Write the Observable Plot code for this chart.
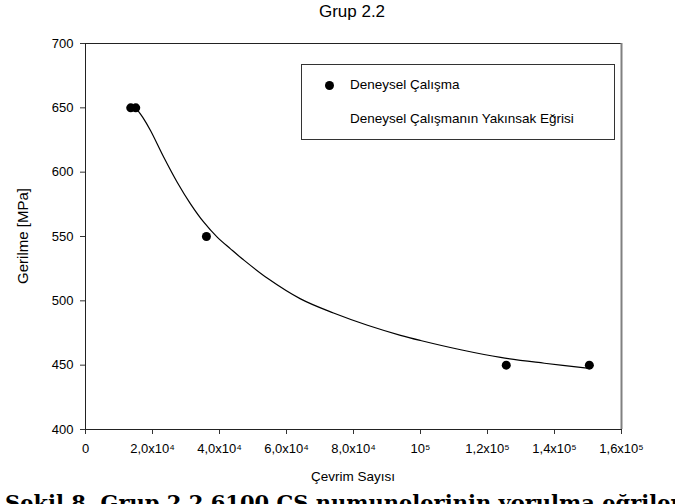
<!DOCTYPE html>
<html>
<head>
<meta charset="utf-8">
<script src="https://cdn.jsdelivr.net/npm/d3@7"></script>
<script src="https://cdn.jsdelivr.net/npm/@observablehq/plot@0.6"></script>
<style>
  html, body { margin: 0; padding: 0; background: #fff; overflow: hidden; width: 675px; height: 504px; }
  #wrap { position: relative; width: 675px; height: 504px; overflow: hidden; font-family: "Liberation Sans", Arial, sans-serif; color: #000; }
  .lbl { position: absolute; white-space: nowrap; }
  #legend { position: absolute; left: 301px; top: 64px; width: 312px; height: 74px; border: 1px solid #333; background: #fff; font-size: 13.5px; }
  #legend .row { position: absolute; left: 48px; }
  #legend .dot { position: absolute; left: 23px; top: 16px; width: 9px; height: 9px; border-radius: 50%; background: #000; }
</style>
</head>
<body>
<div id="wrap"></div>
<script>
// Experimental data (cycles, stress MPa)
const cycles = [13500, 15000, 36100, 125600, 150400];
const stress = [650, 650, 550, 450, 450];

// Fitted curve
const fitCycles = [15000, 17000, 19400, 23370, 27370, 31340, 35310, 39310, 43280, 46770, 54330, 64180, 74030, 84180, 94030, 100000, 112000, 123900, 137000, 150400];
const fitStress = [650, 643, 632.4, 611.6, 592.2, 575.4, 561.1, 549.5, 540.4, 532.7, 517.5, 501.5, 490.5, 481, 473.2, 469.2, 462, 456, 451.5, 447.5];

// Tick values and labels
const xTicks = [0, 20000, 40000, 60000, 80000, 100000, 120000, 140000, 160000];
const xTickLabels = ["0", "2,0x10⁴", "4,0x10⁴", "6,0x10⁴", "8,0x10⁴", "10⁵", "1,2x10⁵", "1,4x10⁵", "1,6x10⁵"];
const yTicks = [400, 450, 500, 550, 600, 650, 700];

const title = "Grup 2.2";
const xLabel = "Çevrim Sayısı";
const yLabel = "Gerilme [MPa]";
const legendLabels = ["Deneysel Çalışma", "Deneysel Çalışmanın Yakınsak Eğrisi"];
const caption = "Şekil 8. Grup 2.2 6100 ÇS numunelerinin yorulma eğrileri";

const points = cycles.map((c, i) => ({x: c, y: stress[i]}));
const fit = fitCycles.map((c, i) => ({x: c, y: fitStress[i]}));

const chart = Plot.plot({
  width: 675,
  height: 504,
  marginLeft: 85,
  marginRight: 54,
  marginTop: 43,
  marginBottom: 75,
  style: {fontFamily: "Liberation Sans, Arial, sans-serif", fontSize: "13px", background: "#fff", color: "#000"},
  x: {domain: [0, 160000]},
  y: {domain: [400, 700]},
  marks: [
    Plot.axisX({ticks: xTicks, tickFormat: d => xTickLabels[xTicks.indexOf(d)], tickSize: 5, tickPadding: 9, label: null, fontSize: 13, stroke: "#333"}),
    Plot.axisY({ticks: yTicks, tickSize: 5, tickPadding: 7, label: null, fontSize: 13, stroke: "#333"}),
    Plot.frame({stroke: "#222", strokeWidth: 1}),
    Plot.ruleX([160000], {stroke: "#808080", strokeWidth: 2}),
    Plot.line(fit, {x: "x", y: "y", curve: "catmull-rom", stroke: "#000", strokeWidth: 1.2}),
    Plot.dot(points, {x: "x", y: "y", r: 4.5, fill: "#000", stroke: "none"})
  ]
});

const wrap = document.getElementById("wrap");
wrap.appendChild(chart);
chart.style.position = "absolute";
chart.style.left = "0px";
chart.style.top = "0px";

function addLabel(text, css) {
  const d = document.createElement("div");
  d.className = "lbl";
  d.textContent = text;
  Object.assign(d.style, css);
  wrap.appendChild(d);
  return d;
}

addLabel(title, {left: "0px", width: "704px", textAlign: "center", top: "2px", fontSize: "17px"});
addLabel(xLabel, {left: "0px", width: "706px", textAlign: "center", top: "469px", fontSize: "13.5px"});
addLabel(yLabel, {left: "22px", top: "236px", fontSize: "15px", transform: "translate(-50%,-50%) rotate(-90deg)"});
addLabel(caption, {left: "5px", top: "491px", fontSize: "21px", fontWeight: "bold", fontFamily: "'DejaVu Serif', 'Liberation Serif', serif", lineHeight: "24px"});

const lg = document.createElement("div");
lg.id = "legend";
const dot = document.createElement("div");
dot.className = "dot";
lg.appendChild(dot);
const r1 = document.createElement("div");
r1.className = "row"; r1.style.top = "12px"; r1.textContent = legendLabels[0];
const r2 = document.createElement("div");
r2.className = "row"; r2.style.top = "46px"; r2.textContent = legendLabels[1];
lg.appendChild(r1); lg.appendChild(r2);
wrap.appendChild(lg);
</script>
</body>
</html>
